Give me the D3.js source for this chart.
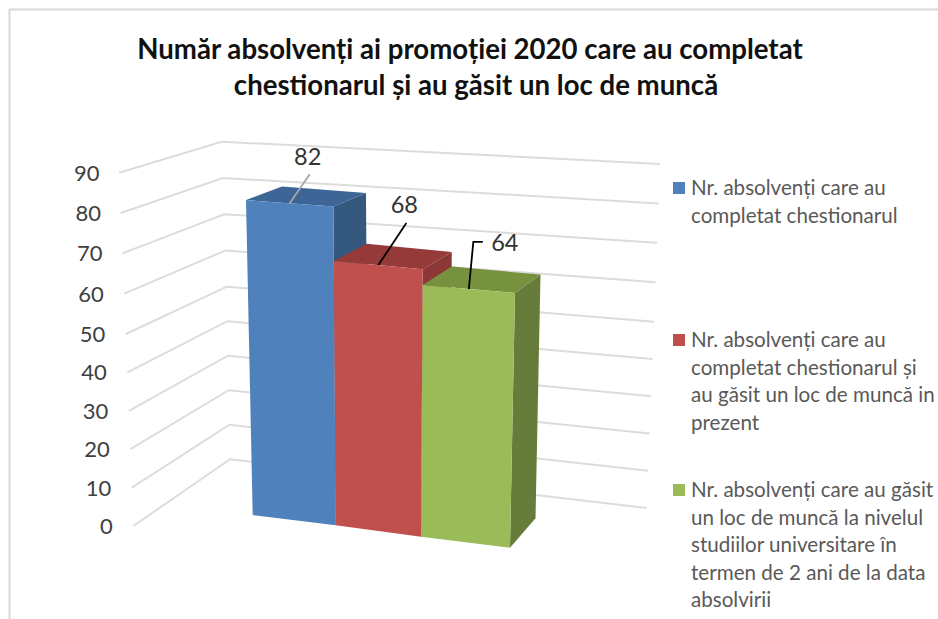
<!DOCTYPE html>
<html>
<head>
<meta charset="utf-8">
<script src="https://cdn.jsdelivr.net/npm/d3@7"></script>
<style>
  html, body { margin: 0; padding: 0; background: #fff; }
  svg { display: block; }
  text { font-family: Lato, "Open Sans", sans-serif; }
</style>
</head>
<body>
<svg id="chart" width="938" height="619"></svg>
<script>
// Chart data
const titleLines = [
  "Număr absolvenți ai promoției 2020 care au completat",
  "chestionarul și au găsit un loc de muncă"
];
const seriesValues = [82, 68, 64];
const seriesColors = ["#4f81bd", "#c0504d", "#9bbb59"];
const topColors = ["#3d6596", "#953a38", "#76923f"];
const sideColors = ["#35587f", "#8c3836", "#657c3a"];
const leaderColors = ["#a6a6a6", "#000000", "#000000"];
const yTicks = [0, 10, 20, 30, 40, 50, 60, 70, 80, 90];
const legendLines = [
  ["Nr. absolvenți care au", "completat chestionarul"],
  ["Nr. absolvenți care au", "completat chestionarul și", "au găsit un loc de muncă in", "prezent"],
  ["Nr. absolvenți care au găsit", "un loc de muncă la nivelul", "studiilor universitare în", "termen de 2 ani de la data", "absolvirii"]
];

const svg = d3.select("#chart");

// Frame around the picture
svg.append("path")
  .attr("d", "M9.5,619V9.5H938")
  .attr("fill", "none")
  .attr("stroke", "#d9d9d9")
  .attr("stroke-width", 2);

// Title
const titleX = [470, 476];
svg.selectAll(".title")
  .data(titleLines)
  .enter()
  .append("text")
  .attr("class", "title")
  .attr("x", (d, i) => titleX[i])
  .attr("y", (d, i) => 59 + i * 36)
  .attr("text-anchor", "middle")
  .attr("font-size", 27.6)
  .attr("font-weight", 700)
  .attr("fill", "#111")
  .text((d) => d);

// Walls of the 3D box: one scale per edge, value -> pixel
const vDomain = [0, 50, 90];
const leftX = d3.scaleLinear().domain(vDomain).range([133.3, 126, 119]);
const leftY = d3.scaleLinear().domain(vDomain).range([526, 334, 172.7]);
const cornerX = d3.scaleLinear().domain(vDomain).range([230, 226.7, 221.7]);
const cornerY = d3.scaleLinear().domain(vDomain).range([459.3, 286.7, 141.7]);
const rightX = d3.scaleLinear().domain(vDomain).range([646.7, 654, 660]);
const rightY = d3.scaleLinear().domain(vDomain).range([508, 321.7, 164]);
const labelX = d3.scaleLinear().domain([0, 90]).range([112.7, 99.5]);

svg.selectAll(".grid")
  .data(yTicks)
  .enter()
  .append("polyline")
  .attr("class", "grid")
  .attr("fill", "none")
  .attr("stroke", "#dcdcdc")
  .attr("stroke-width", 2)
  .attr("points", (v) => [
    [leftX(v), leftY(v)],
    [cornerX(v), cornerY(v)],
    [rightX(v), rightY(v)]
  ].join(" "));

svg.selectAll(".tick")
  .data(yTicks)
  .enter()
  .append("text")
  .attr("class", "tick")
  .attr("x", labelX)
  .attr("y", (v) => leftY(v) + 8)
  .attr("text-anchor", "end")
  .attr("font-size", 22)
  .attr("fill", "#404040")
  .text((d) => d);

// Front plane of the bars: u is the bar position (0..3), v the value
const baseX = d3.scaleLinear().domain([0, 1, 2, 3]).range([252.7, 335.7, 421, 510]);
const baseY = d3.scaleLinear().domain([0, 1, 2, 3]).range([515, 525.3, 536.7, 547.7]);
const slopeX = d3.scaleLinear().domain([0, 1.5, 3]).range([-0.0817, 0, 0.078]);
const slopeY = d3.scaleLinear().domain([0, 3]).range([3.84, 3.98]);
const depthX = d3.scaleLinear().domain([0, 3]).range([36, 25.5]);
const depthY = d3.scaleLinear().domain([0, 64, 82]).range([-29.4, -18.4, -13.5]);

const front = (u, v) => [baseX(u) + slopeX(u) * v, baseY(u) - slopeY(u) * v];
const back = (u, v) => {
  const p = front(u, v);
  return [p[0] + depthX(u), p[1] + depthY(v)];
};

const bars = svg.selectAll(".bar")
  .data(seriesValues)
  .enter()
  .append("g")
  .attr("class", "bar");

bars.append("polygon")
  .attr("fill", (d, i) => sideColors[i])
  .attr("points", (v, i) => [front(i + 1, 0), back(i + 1, 0), back(i + 1, v), front(i + 1, v)].join(" "));

bars.append("polygon")
  .attr("fill", (d, i) => topColors[i])
  .attr("points", (v, i) => [front(i, v), back(i, v), back(i + 1, v), front(i + 1, v)].join(" "));

bars.append("polygon")
  .attr("fill", (d, i) => seriesColors[i])
  .attr("points", (v, i) => [front(i, 0), front(i, v), front(i + 1, v), front(i + 1, 0)].join(" "));

// Data labels with their leader lines
const labelOffsets = [[18, -38], [26, -52], [36, -38]];
const elbows = [null, null, [4.5, -47]];
const lineEnds = [[20, -29], [28, -42], [14, -47]];

seriesValues.forEach((v, i) => {
  const a = front(i + 0.5, v);
  const pts = [a];
  if (elbows[i]) pts.push([a[0] + elbows[i][0], a[1] + elbows[i][1]]);
  pts.push([a[0] + lineEnds[i][0], a[1] + lineEnds[i][1]]);
  svg.append("polyline")
    .attr("fill", "none")
    .attr("stroke", leaderColors[i])
    .attr("stroke-width", 1.8)
    .attr("points", pts.join(" "));
  svg.append("text")
    .attr("x", a[0] + labelOffsets[i][0])
    .attr("y", a[1] + labelOffsets[i][1])
    .attr("text-anchor", "middle")
    .attr("font-size", 23.5)
    .attr("fill", "#333")
    .text(v);
});

// Legend
const legendY = [195, 347, 497];
const legend = svg.selectAll(".legend")
  .data(legendLines)
  .enter()
  .append("g")
  .attr("class", "legend")
  .attr("transform", (d, i) => `translate(673,${legendY[i]})`);

legend.append("rect")
  .attr("y", -13)
  .attr("width", 12)
  .attr("height", 12)
  .attr("fill", (d, i) => seriesColors[i]);

legend.selectAll("text")
  .data((d) => d)
  .enter()
  .append("text")
  .attr("x", 18)
  .attr("y", (d, i) => i * 27.5)
  .attr("font-size", 20.6)
  .attr("fill", "#595959")
  .text((d) => d);
</script>
</body>
</html>
